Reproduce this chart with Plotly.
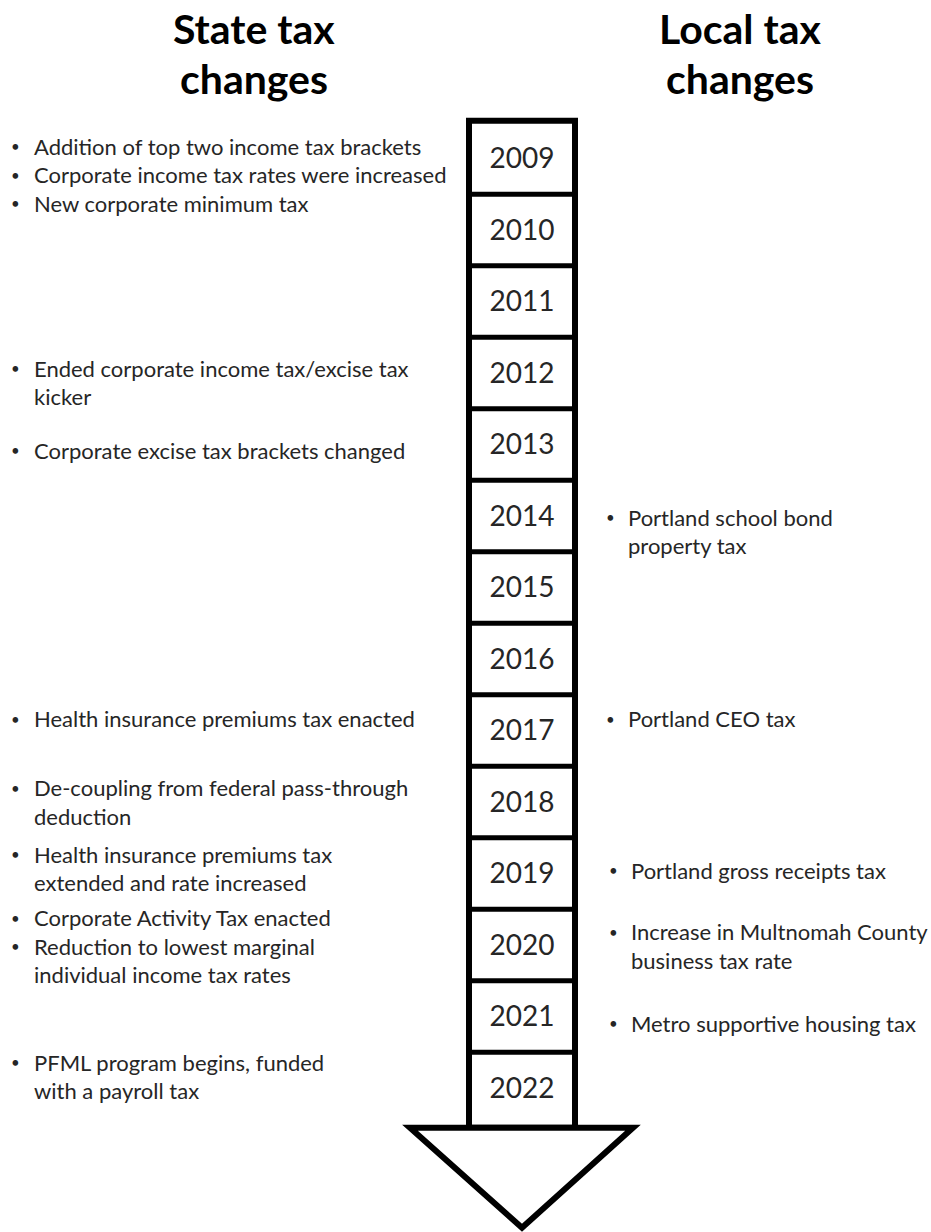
import plotly.graph_objects as go

# ---------------- data ----------------
years = list(range(2009, 2023))

state_title = ["State tax", "changes"]
local_title = ["Local tax", "changes"]

state_years = [2009, 2012, 2013, 2017, 2018, 2019, 2020, 2022]
state_items = [
    [["Addition of top two income tax brackets"],
     ["Corporate income tax rates were increased"],
     ["New corporate minimum tax"]],
    [["Ended corporate income tax/excise tax", "kicker"]],
    [["Corporate excise tax brackets changed"]],
    [["Health insurance premiums tax enacted"]],
    [["De-coupling from federal pass-through", "deduction"]],
    [["Health insurance premiums tax", "extended and rate increased"]],
    [["Corporate Activity Tax enacted"],
     ["Reduction to lowest marginal", "individual income tax rates"]],
    [["PFML program begins, funded", "with a payroll tax"]],
]

local_years = [2014, 2017, 2019, 2020, 2021]
local_items = [
    [["Portland school bond", "property tax"]],
    [["Portland CEO tax"]],
    [["Portland gross receipts tax"]],
    [["Increase in Multnomah County", "business tax rate"]],
    [["Metro supportive housing tax"]],
]

# ---------------- layout / style ----------------
W, H = 931, 1232
ROW = 71.5            # px per year row
Y0PX = 158.5          # pixel centre of first year row
FONT = "Lato, Carlito, 'Open Sans', sans-serif"
TXT = "#262626"

# vertical shift (px) of each text group relative to its year row
state_shift = [16, 9.5, 5.5, -12, 0, -5, 1, -11.5]
local_shift = [15.5, -12, -3.5, 1, 6.5]
local_bullet_x = [610, 610, 613, 613, 613]
LINE = 28.5
YEAR_TEXT_SHIFT = 2.5  # px

first = years[0]
def px2yr(p):
    return first + (p - Y0PX) / ROW

yr_top = px2yr(0)
yr_bot = px2yr(H)

col_x0, col_x1 = 469, 575
col_cx = (col_x0 + col_x1) / 2
top_edge = years[0] - 0.5 - 2 / ROW
bot_edge = years[-1] + 0.5 + 4 / ROW
apex = bot_edge + 100 / ROW

fig = go.Figure()

# year labels
fig.add_trace(go.Scatter(
    x=[col_cx] * len(years), y=[y + YEAR_TEXT_SHIFT / ROW for y in years], mode="text",
    text=[str(y) for y in years], textposition="middle center",
    textfont=dict(family=FONT, size=28, color=TXT),
    hoverinfo="skip", showlegend=False,
))

shapes = []
shapes.append(dict(type="rect", xref="x", yref="y", x0=col_x0, x1=col_x1,
                   y0=top_edge, y1=bot_edge,
                   line=dict(color="black", width=6), fillcolor="white", layer="below"))
for y in years[:-1]:
    shapes.append(dict(type="line", xref="x", yref="y", x0=col_x0, x1=col_x1,
                       y0=y + 0.5, y1=y + 0.5,
                       line=dict(color="black", width=5), layer="below"))
shapes.append(dict(type="path", xref="x", yref="y",
                   path=f"M 410,{bot_edge} L 633,{bot_edge} L {col_cx},{apex} Z",
                   line=dict(color="black", width=6), fillcolor="white", layer="below"))

annotations = []

def add_group(year, items, shift, bx, tx):
    lines = []
    for item in items:
        for i, t in enumerate(item):
            lines.append((i == 0, t))
    n = len(lines)
    centre = Y0PX + (year - first) * ROW + shift
    for k, (is_first, t) in enumerate(lines):
        yy = px2yr(centre + (k - (n - 1) / 2) * LINE)
        if is_first:
            annotations.append(dict(x=bx, y=yy, xref="x", yref="y", text="•",
                                    showarrow=False, xanchor="center", yanchor="middle",
                                    font=dict(family=FONT, size=15, color=TXT)))
        annotations.append(dict(x=tx, y=yy, xref="x", yref="y", text=t,
                                showarrow=False, xanchor="left", yanchor="middle",
                                font=dict(family=FONT, size=22, color=TXT)))

for yr, items, sh in zip(state_years, state_items, state_shift):
    add_group(yr, items, sh, 15, 32)
for yr, items, sh, bx in zip(local_years, local_items, local_shift, local_bullet_x):
    add_group(yr, items, sh, bx, bx + 16)

# titles
for lines, cx in [(state_title, 254), (local_title, 740)]:
    for t, ypx in zip(lines, [28, 78]):
        annotations.append(dict(x=cx, y=px2yr(ypx), xref="x", yref="y", text=f"<b>{t}</b>",
                                showarrow=False, xanchor="center", yanchor="middle",
                                font=dict(family=FONT, size=41, color="black")))

fig.update_layout(
    width=W, height=H,
    margin=dict(l=0, r=0, t=0, b=0),
    paper_bgcolor="white", plot_bgcolor="white",
    xaxis=dict(range=[0, W], visible=False, fixedrange=True),
    yaxis=dict(range=[yr_bot, yr_top], visible=False, fixedrange=True),
    shapes=shapes, annotations=annotations, showlegend=False,
)

fig.write_html("out.html",
               config={"displayModeBar": False, "staticPlot": True},
               post_script="document.body.style.margin='0';document.body.style.overflow='hidden';")
